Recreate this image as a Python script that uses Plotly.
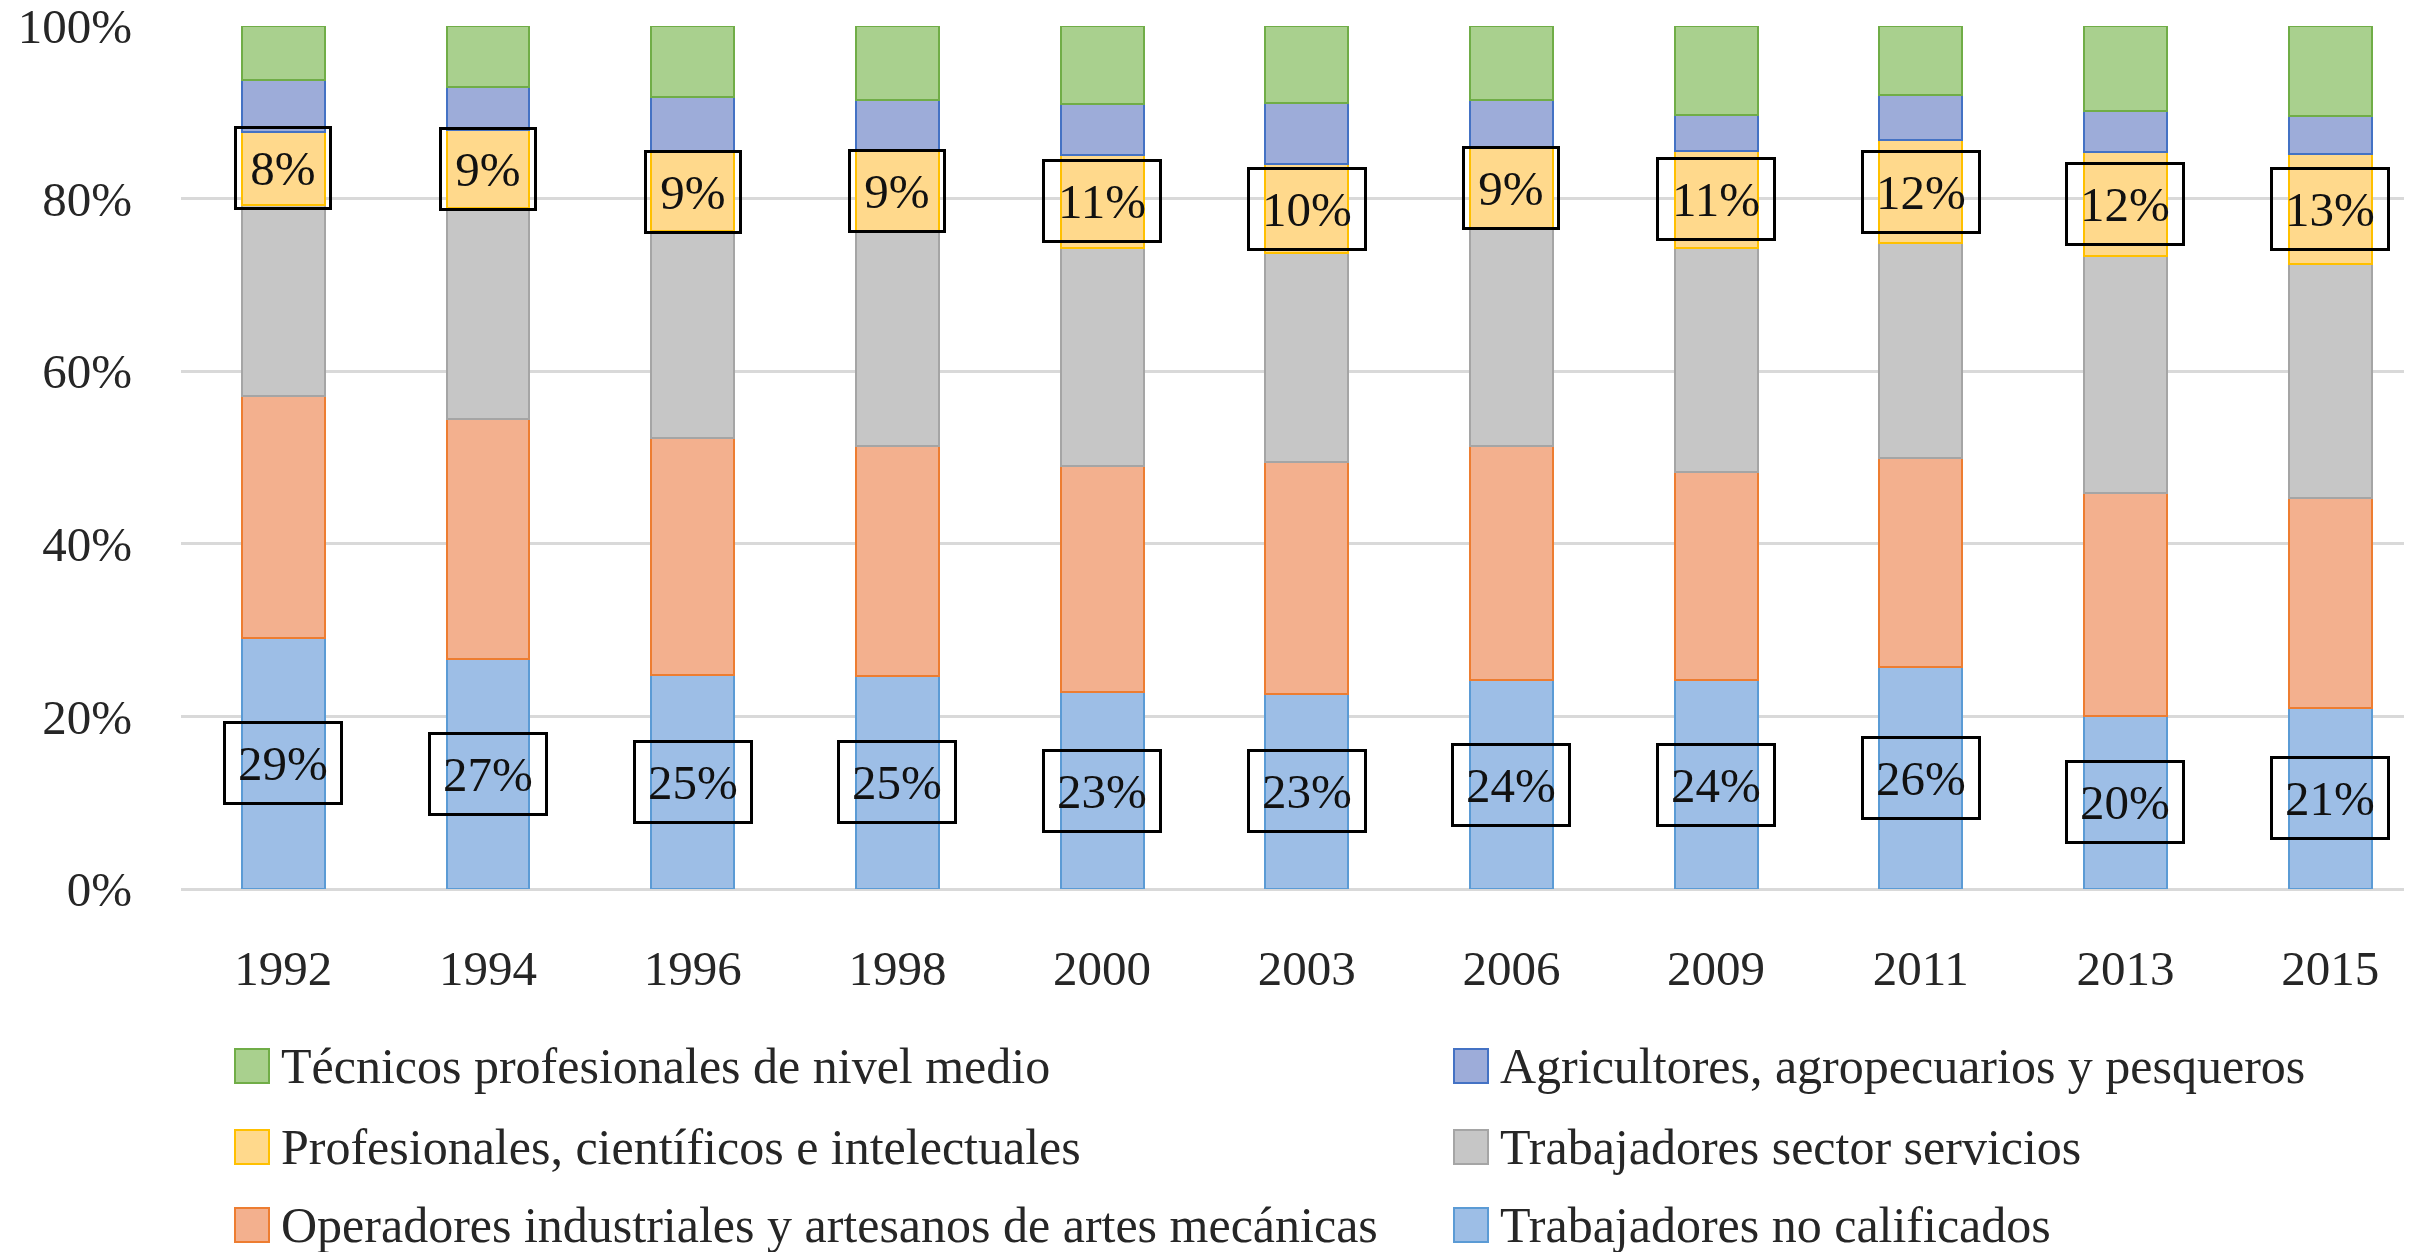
import plotly.graph_objects as go

# share of employment by occupational group, in percent
years = ["1992", "1994", "1996", "1998", "2000", "2003", "2006", "2009", "2011", "2013", "2015"]

no_calificados = [29.1, 26.7, 24.8, 24.7, 22.8, 22.6, 24.2, 24.2, 25.7, 20.1, 21.0]
operadores = [28.0, 27.8, 27.5, 26.6, 26.2, 26.9, 27.1, 24.1, 24.2, 25.8, 24.3]
servicios = [22.2, 24.4, 23.9, 24.9, 25.3, 24.2, 25.2, 26.0, 24.9, 27.5, 27.1]
profesionales = [8.4, 9.0, 9.2, 9.4, 10.8, 10.3, 9.4, 11.2, 12.0, 12.0, 12.8]
agricultores = [6.0, 5.0, 6.4, 5.8, 5.9, 7.1, 5.5, 4.2, 5.2, 4.8, 4.4]
tecnicos = [6.3, 7.1, 8.2, 8.6, 9.0, 8.9, 8.6, 10.3, 8.0, 9.8, 10.4]

y_ticks = [0, 20, 40, 60, 80, 100]

series_names = [
    "Trabajadores no calificados",
    "Operadores industriales y artesanos de artes mecánicas",
    "Trabajadores sector servicios",
    "Profesionales, científicos e intelectuales",
    "Agricultores, agropecuarios y pesqueros",
    "Técnicos profesionales de nivel medio",
]
series_values = [no_calificados, operadores, servicios, profesionales, agricultores, tecnicos]

FILL = ["#9dbee6", "#f3b08e", "#c6c6c6", "#ffd98c", "#9dacd9", "#a9d08e"]
EDGE = ["#5b9bd5", "#ed7d31", "#a5a5a5", "#ffc000", "#4472c4", "#70ad47"]

# legend grid (row, col) for each series, as in the reference
LEGEND_POS = [(2, 1), (2, 0), (1, 1), (1, 0), (0, 1), (0, 0)]

PCT = chr(37)
OFF = 8  # default body margin of the page
W, H = 2412 - OFF, 1252 - OFF
L, R, T, B = 181 - OFF, 0, 26 - OFF, 363
FONT = "Liberation Serif"
TEXT = "#262626"
SIZE = 49


def px_to_paper(px, py):
    """page pixel -> paper coords of the plot area"""
    px, py = px - OFF, py - OFF
    return (px - L) / (W - L - R), (H - B - py) / (H - T - B)


fig = go.Figure()
for name, vals, fill, edge in zip(series_names, series_values, FILL, EDGE):
    fig.add_trace(go.Bar(
        x=years, y=vals, name=name, width=0.405,
        marker=dict(color=fill, line=dict(color=edge, width=2)),
        showlegend=False, hoverinfo="name+y",
    ))

# boxed value labels on the bottom series and the "profesionales" series
annotations = []
for i in range(len(years)):
    base_prof = no_calificados[i] + operadores[i] + servicios[i]
    for val, mid in ((no_calificados[i], no_calificados[i] / 2),
                     (profesionales[i], base_prof + profesionales[i] / 2)):
        label = str(round(val)) + PCT
        annotations.append(dict(
            x=i, y=mid, xref="x", yref="y", text=label, showarrow=False,
            font=dict(family=FONT, size=SIZE, color="#111111"),
            bordercolor="#000000", borderwidth=3, borderpad=2,
            width=110 if len(label) > 2 else 88, height=74,
        ))

# hand-built legend, two columns of three rows
shapes = []
col_x = [235, 1454]
row_y = [1066, 1147, 1225]
box = 34
for name, fill, edge, (r, c) in zip(series_names, FILL, EDGE, LEGEND_POS):
    x0, y0 = px_to_paper(col_x[c], row_y[r] - box / 2)
    x1, y1 = px_to_paper(col_x[c] + box, row_y[r] + box / 2)
    shapes.append(dict(type="rect", xref="paper", yref="paper",
                       x0=x0, x1=x1, y0=y0, y1=y1,
                       fillcolor=fill, line=dict(color=edge, width=2)))
    tx, ty = px_to_paper(col_x[c] + box + 10, row_y[r])
    annotations.append(dict(
        x=tx, y=ty, xref="paper", yref="paper", text=name, showarrow=False,
        xanchor="left", yanchor="middle",
        font=dict(family=FONT, size=50, color=TEXT),
    ))

fig.update_layout(
    width=W, height=H,
    barmode="stack",
    plot_bgcolor="white", paper_bgcolor="white",
    margin=dict(l=L, r=R, t=T, b=B, autoexpand=False),
    font=dict(family=FONT, size=SIZE, color=TEXT),
    xaxis=dict(
        type="category", range=[-0.5, 10.4], showgrid=False, showline=False,
        automargin=False,
        ticks="outside", ticklen=36, tickcolor="rgba(0,0,0,0)",
        tickfont=dict(family=FONT, size=SIZE, color=TEXT),
    ),
    yaxis=dict(
        range=[0, 100], tickmode="array", tickvals=y_ticks,
        ticktext=[str(v) + PCT for v in y_ticks], ticklabeloverflow="allow",
        automargin=False,
        showgrid=True, gridcolor="#d9d9d9", gridwidth=3,
        zeroline=True, zerolinecolor="#d9d9d9", zerolinewidth=3,
        showline=False, ticks="outside", ticklen=38, tickcolor="rgba(0,0,0,0)",
        tickfont=dict(family=FONT, size=SIZE, color=TEXT),
    ),
    annotations=annotations,
    shapes=shapes,
)

fig.write_html("out.html")
